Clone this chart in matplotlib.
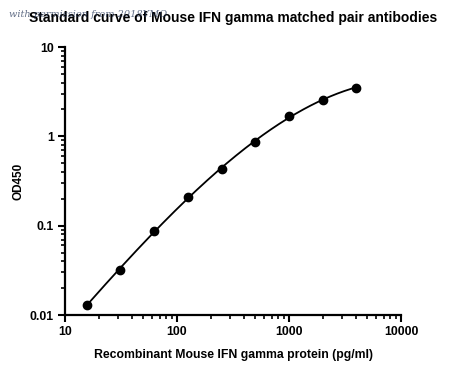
import numpy as np
import matplotlib.pyplot as plt
from matplotlib.ticker import LogLocator, FixedLocator, FixedFormatter, NullFormatter

plt.rcParams['font.family'] = ['Liberation Sans', 'DejaVu Sans']

conc = [15.6, 31.25, 62.5, 125, 250, 500, 1000, 2000, 4000]
od450 = [0.013, 0.032, 0.088, 0.211, 0.43, 0.86, 1.68, 2.58, 3.52]

x_ticks = [10, 100, 1000, 10000]
x_labels = ['10', '100', '1000', '10000']
y_ticks = [0.01, 0.1, 1, 10]
y_labels = ['0.01', '0.1', '1', '10']

fig = plt.figure(figsize=(4.5, 3.72), dpi=100)
ax = fig.add_axes([65/450, 1 - 315/372, 336/450, 268/372])

# smooth fit through the points (cubic in log-log space)
lx = np.log10(conc)
ly = np.log10(od450)
coef = np.polyfit(lx, ly, 3)
xs = np.linspace(lx[0], lx[-1], 200)
ax.plot(10**xs, 10**np.polyval(coef, xs), color='black', lw=1.3)
ax.plot(conc, od450, 'o', color='black', ms=6)

ax.set_xscale('log')
ax.set_yscale('log')
ax.set_xlim(10, 10000)
ax.set_ylim(0.01, 10)

ax.xaxis.set_major_locator(FixedLocator(x_ticks))
ax.xaxis.set_major_formatter(FixedFormatter(x_labels))
ax.yaxis.set_major_locator(FixedLocator(y_ticks))
ax.yaxis.set_major_formatter(FixedFormatter(y_labels))
ax.xaxis.set_minor_locator(LogLocator(base=10, subs=np.arange(2, 10)))
ax.yaxis.set_minor_locator(LogLocator(base=10, subs=np.arange(2, 10)))
ax.xaxis.set_minor_formatter(NullFormatter())
ax.yaxis.set_minor_formatter(NullFormatter())

for s in ['top', 'right']:
    ax.spines[s].set_visible(False)
for s in ['left', 'bottom']:
    ax.spines[s].set_linewidth(1.6)

ax.tick_params(which='major', length=5, width=1.5, labelsize=8.8, pad=3)
ax.tick_params(which='minor', length=3, width=1.2)
for lab in ax.get_xticklabels() + ax.get_yticklabels():
    lab.set_fontweight('bold')

ax.set_xlabel('Recombinant Mouse IFN gamma protein (pg/ml)', fontsize=8.8, fontweight='bold', labelpad=8)
ax.set_ylabel('OD450', fontsize=8.5, fontweight='bold', labelpad=4)
ax.set_title('Standard curve of Mouse IFN gamma matched pair antibodies', fontsize=10, fontweight='bold', pad=18)

fig.text(0.02, 0.955, 'with permission from 2018YMO', fontsize=7, style='italic',
         family='DejaVu Serif', color='#223355', alpha=0.7)

fig.savefig('out.png', dpi=100)
